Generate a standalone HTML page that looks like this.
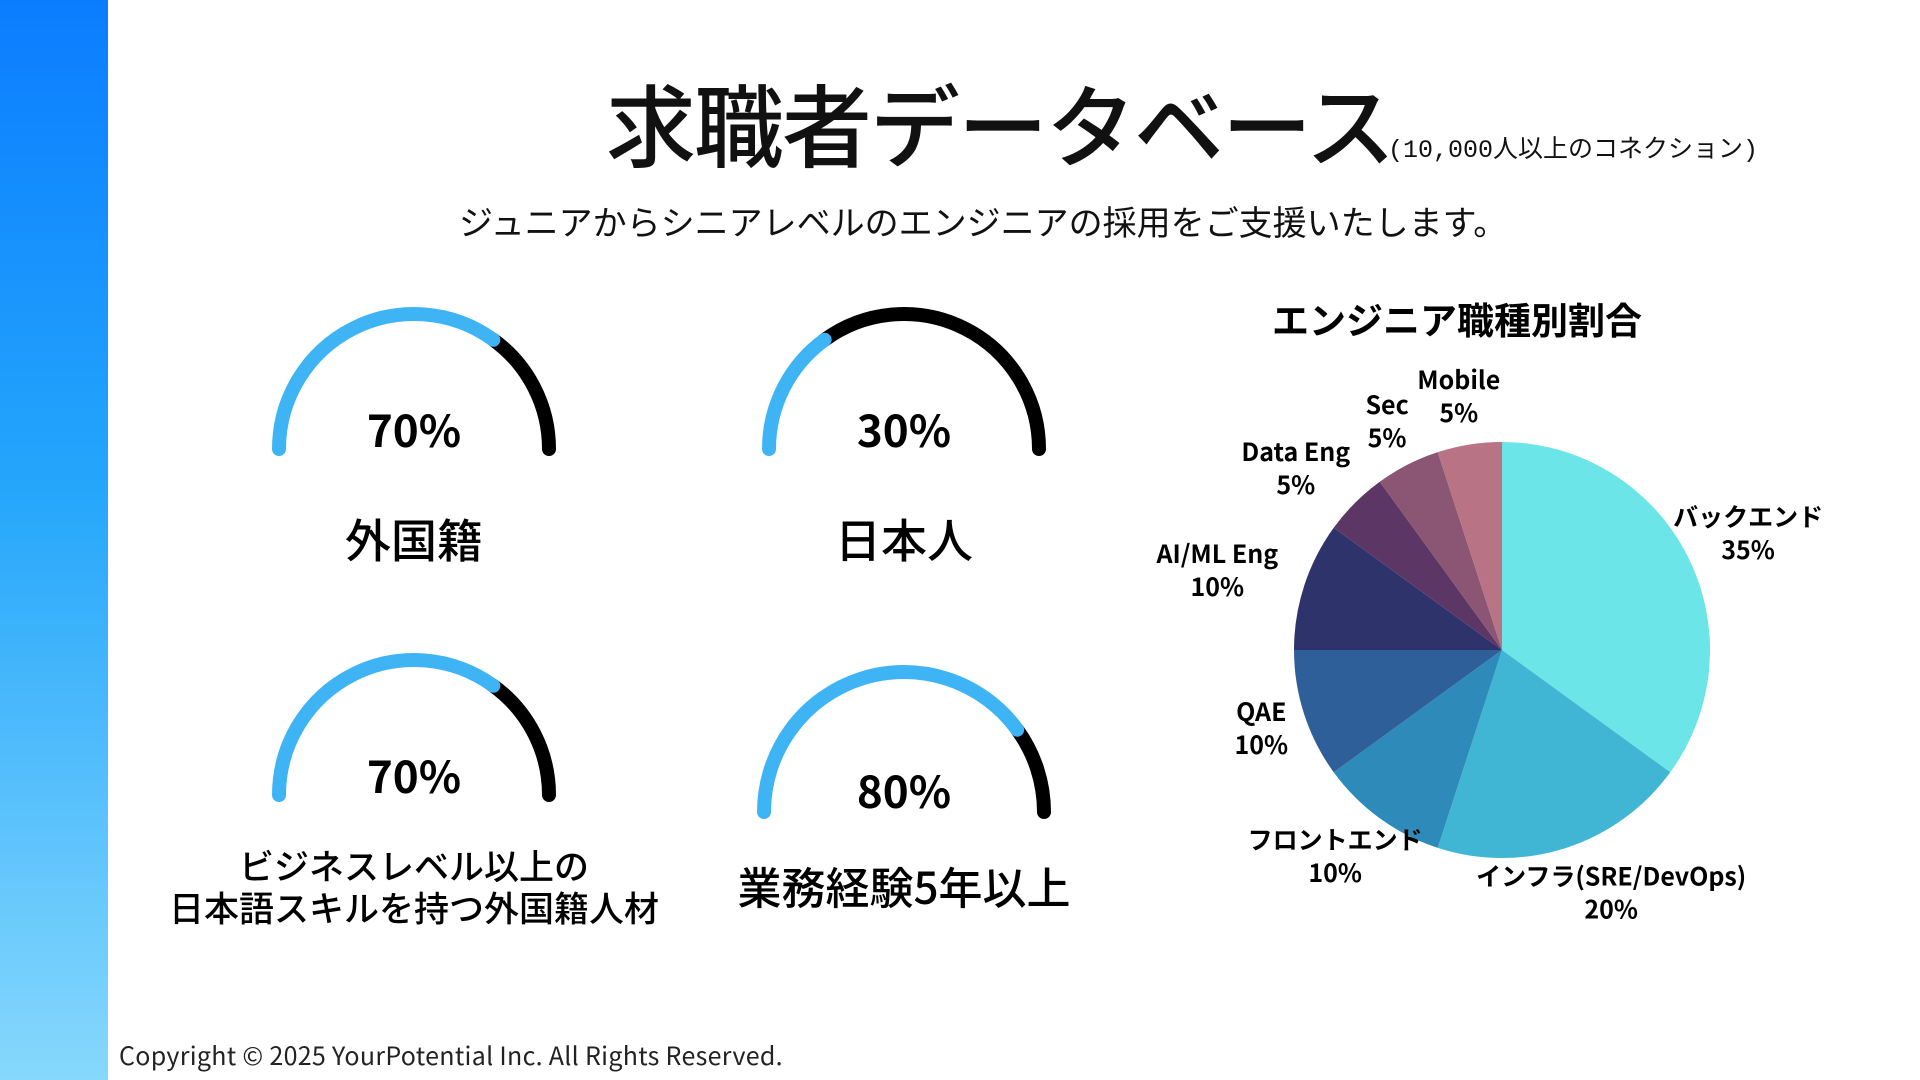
<!DOCTYPE html>
<html lang="ja"><head><meta charset="utf-8">
<style>
html,body{margin:0;padding:0;}
body{width:1920px;height:1080px;position:relative;background:#fff;overflow:hidden;font-family:"Liberation Sans","Noto Sans CJK JP",sans-serif;color:#111;}
.bar{position:absolute;left:0;top:0;width:108px;height:1080px;background:linear-gradient(180deg,#0a7dff 0%,#25a6fb 45%,#86d8fc 100%);}
.t{position:absolute;white-space:nowrap;}
</style></head>
<body>
<div class="bar"></div>
<div class="t" style="left:606px;top:56px;font-size:90px;font-weight:500;font-family:'Noto Sans CJK JP',sans-serif;letter-spacing:-2px;">求職者データベース</div>
<div class="t" style="left:1388px;top:129px;font-size:25px;font-family:'Liberation Mono','Noto Sans CJK JP',monospace;">(10,000人以上のコネクション)</div>
<div class="t" style="left:459px;top:196px;font-size:34px;font-family:'Noto Sans CJK JP',sans-serif;">ジュニアからシニアレベルのエンジニアの採用をご支援いたします。</div>

<svg id="g" width="1920" height="1080" style="position:absolute;left:0;top:0"></svg>

<div class="t" style="left:119px;top:1037px;font-size:25px;letter-spacing:0.3px;font-family:'Noto Sans CJK JP',sans-serif;color:#222;">Copyright © 2025 YourPotential Inc. All Rights Reserved.</div>

<script>
const gaugeValues=[70,30,70,80];
const gaugeLabels=[["外国籍"],["日本人"],["ビジネスレベル以上の","日本語スキルを持つ外国籍人材"],["業務経験5年以上"]];
const pieCategories=["バックエンド","インフラ(SRE/DevOps)","フロントエンド","QAE","AI/ML Eng","Data Eng","Sec","Mobile"];
const pieValues=[35,20,10,10,10,5,5,5];
const pieColors=["#6ce5e8","#41b6d4","#2e8ab8","#2e5f98","#2f336b","#5c3765","#8a5674","#b87385"];

const NS="http://www.w3.org/2000/svg";
const svg=document.getElementById('g');
function mk(tag,attrs){const e=document.createElementNS(NS,tag);for(const k in attrs)e.setAttribute(k,attrs[k]);svg.appendChild(e);return e;}

const gaugeGeo=[{cx:414,cy:449,r:135,py:431,ly:[541],fs:46},{cx:904,cy:449,r:135,py:431,ly:[541],fs:46},{cx:414,cy:795,r:135,py:777,ly:[867,909],fs:35},{cx:904,cy:812,r:140,py:792,ly:[888],fs:44}];
function pt(g,frac){const a=Math.PI*(1-frac);return [g.cx+g.r*Math.cos(a),g.cy-g.r*Math.sin(a)];}
gaugeValues.forEach((v,i)=>{
  const g=gaugeGeo[i];const f=v/100;
  const s=pt(g,0),m=pt(g,f),e=pt(g,1);
  const bg=mk('path',{d:`M${m[0]},${m[1]} A${g.r},${g.r} 0 0 1 ${e[0]},${e[1]}`,fill:'none',stroke:'#000','stroke-width':14,'stroke-linecap':'round'});
  
  
  const fg=mk('path',{d:`M${s[0]},${s[1]} A${g.r},${g.r} 0 0 1 ${m[0]},${m[1]}`,fill:'none',stroke:'#3fb4f5','stroke-width':14,'stroke-linecap':'round'});
  
  
  const pct=mk('text',{x:g.cx,y:g.py+16,'text-anchor':'middle','font-size':44,'font-weight':'bold','font-family':"'Noto Sans CJK JP',sans-serif"});
  pct.textContent=v+'%';
  
  
  gaugeLabels[i].forEach((l,j)=>{
    const t=mk('text',{x:g.cx,y:g.ly[j]+g.fs*0.36,'text-anchor':'middle','font-size':g.fs,'font-weight':500,'font-family':"'Noto Sans CJK JP',sans-serif"});
    t.textContent=l;
    
    
  });
});

const PC={x:1502,y:650,r:208};
const title=mk('text',{x:1457,y:334,'text-anchor':'middle','font-size':37,'font-weight':'bold','font-family':"'Noto Sans CJK JP',sans-serif"});
title.textContent='エンジニア職種別割合';


const total=pieValues.reduce((a,b)=>a+b,0);
let acc=0;
function ang2xy(a,r){return [PC.x+r*Math.sin(a),PC.y-r*Math.cos(a)];}
pieValues.forEach((v,i)=>{
  const a0=acc/total*2*Math.PI;acc+=v;const a1=acc/total*2*Math.PI;
  const p0=ang2xy(a0,PC.r),p1=ang2xy(a1,PC.r);
  const large=(a1-a0)>Math.PI?1:0;
  const s=mk('path',{d:`M${PC.x},${PC.y} L${p0[0]},${p0[1]} A${PC.r},${PC.r} 0 ${large} 1 ${p1[0]},${p1[1]} Z`,fill:pieColors[i]});
  
  
  const am=(a0+a1)/2;
  const w=pieCategories[i].length*14;
  const base=ang2xy(am,PC.r+22);
  const lx=base[0]+Math.sin(am)*w*0.55;
  const ly=base[1]-Math.cos(am)*26;
  const t=mk('text',{x:lx,y:ly-8,'text-anchor':'middle','font-size':25,'font-weight':'bold','font-family':"'Noto Sans CJK JP',sans-serif"});
  t.textContent=pieCategories[i];
  
  
  const t2=mk('text',{x:lx,y:ly+25,'text-anchor':'middle','font-size':25,'font-weight':'bold','font-family':"'Noto Sans CJK JP',sans-serif"});
  t2.textContent=v+'%';
  
  
});
</script>
</body></html>
